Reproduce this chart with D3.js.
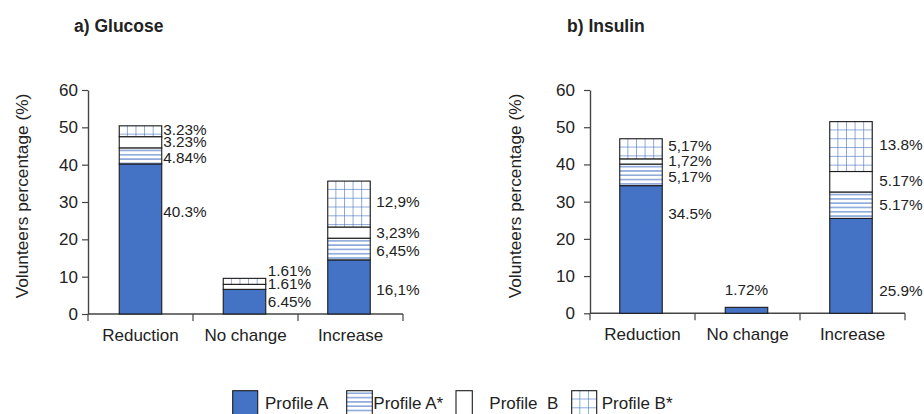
<!DOCTYPE html>
<html>
<head>
<meta charset="utf-8">
<script src="https://cdn.jsdelivr.net/npm/d3@7"></script>
<style>
  html, body { margin: 0; padding: 0; background: #fff; }
  svg { display: block; font-family: "Liberation Sans", Arial, sans-serif; }
  text { fill: #222; white-space: pre; }
</style>
</head>
<body>
<svg id="chart" width="924" height="414"></svg>
<script>
// ---------- DATA ----------
const categories = ["Reduction", "No change", "Increase"];
const profiles = ["Profile A", "Profile A*", "Profile B", "Profile B*"];
const legendLabels = ["Profile A", "Profile A*", "Profile  B", "Profile B*"];
const yTicks = [0, 10, 20, 30, 40, 50, 60];

// a) Glucose — bar heights, per category
const glucoseA     = [40.2, 6.6, 14.5];
const glucoseAStar = [4.3, 0, 5.8];
const glucoseB     = [3.0, 1.35, 3.0];
const glucoseBStar = [2.9, 1.6, 12.3];
const glucoseLabels = [
  ["40.3%", "4.84%", "3.23%", "3.23%"],
  ["6.45%", "", "1.61%", "1.61%"],
  ["16,1%", "6,45%", "3,23%", "12,9%"]
];
const glucoseLabelAt = [
  [27.4, 41.8, 46.2, 49.5],
  [3.3, null, 8.0, 11.6],
  [6.4, 16.9, 21.8, 30.1]
];

// b) Insulin
const insulinA     = [34.3, 1.6, 25.5];
const insulinAStar = [5.8, 0, 7.1];
const insulinB     = [1.4, 0, 5.5];
const insulinBStar = [5.4, 0, 13.4];
const insulinLabels = [
  ["34.5%", "5,17%", "1,72%", "5,17%"],
  ["1.72%", "", "", ""],
  ["25.9%", "5.17%", "5.17%", "13.8%"]
];
const insulinLabelAt = [
  [26.9, 36.7, 41.0, 45.1],
  [6.3, null, null, null],
  [6.0, 29.1, 35.6, 45.2]
];

// ---------- DRAW ----------
const BLUE = "#4472C4";
const svg = d3.select("#chart");
const defs = svg.append("defs");
let patId = 0;

function makePattern(kind, x, y) {
  const id = "p" + (patId++);
  if (kind === 1) {
    const p = defs.append("pattern").attr("id", id)
      .attr("patternUnits", "userSpaceOnUse")
      .attr("x", x).attr("y", y).attr("width", 10).attr("height", 4.3);
    p.append("rect").attr("width", 10).attr("height", 4.3).attr("fill", "#fff");
    p.append("line").attr("x1", 0).attr("x2", 10).attr("y1", 2.6).attr("y2", 2.6)
      .attr("stroke", BLUE).attr("stroke-width", 1);
  } else if (kind === 3) {
    const p = defs.append("pattern").attr("id", id)
      .attr("patternUnits", "userSpaceOnUse")
      .attr("x", x).attr("y", y).attr("width", 8.6).attr("height", 8.8);
    p.append("rect").attr("width", 8.6).attr("height", 8.8).attr("fill", "#fff");
    p.append("line").attr("x1", 8.6).attr("x2", 8.6).attr("y1", 0).attr("y2", 8.8)
      .attr("stroke", BLUE).attr("stroke-width", 1.2);
    p.append("line").attr("x1", 0).attr("x2", 8.6).attr("y1", 8.8).attr("y2", 8.8)
      .attr("stroke", BLUE).attr("stroke-width", 1.2);
  }
  return "url(#" + id + ")";
}
function fillFor(k, x, y) {
  if (k === 0) return BLUE;
  if (k === 2) return "#fff";
  return makePattern(k, x, y);
}

function panel(cfg) {
  const g = svg.append("g");
  const x = d3.scaleBand().domain(categories).range([cfg.x0, cfg.x1]).padding(0);
  const y = d3.scaleLinear().domain([0, 60]).range([cfg.y0, cfg.y1]);

  // title
  g.append("text").attr("x", cfg.titleX).attr("y", 32)
    .attr("font-size", 17.5).attr("font-weight", "bold").text(cfg.title);

  // y axis label
  g.append("text")
    .attr("transform", `translate(${cfg.ylabX},${196}) rotate(-90)`)
    .attr("text-anchor", "middle").attr("dy", "0.35em")
    .attr("font-size", 17.3).text("Volunteers percentage (%)");

  // y axis
  const yAxis = d3.axisLeft(y).tickValues(yTicks).tickSize(6).tickPadding(cfg.tickPad).tickSizeOuter(0);
  const ya = g.append("g").attr("transform", `translate(${cfg.x0},0)`).call(yAxis);
  ya.select(".domain").attr("stroke", "#444").attr("stroke-width", 1.4);
  ya.selectAll(".tick line").attr("stroke", "#444").attr("stroke-width", 1.2);
  ya.selectAll(".tick text").attr("font-size", 17).attr("fill", "#222")
    .attr("font-family", "Liberation Sans, Arial, sans-serif");

  // x axis: line + boundary ticks
  const xa = g.append("g");
  xa.append("line").attr("x1", cfg.x0).attr("x2", cfg.x1)
    .attr("y1", y(0)).attr("y2", y(0)).attr("stroke", "#444").attr("stroke-width", 1.4);
  const bounds = categories.map(c => x(c)).concat([x(categories[2]) + x.bandwidth()]);
  xa.selectAll("line.tk").data(bounds).join("line").attr("class", "tk")
    .attr("x1", d => d).attr("x2", d => d).attr("y1", y(0)).attr("y2", y(0) + 7)
    .attr("stroke", "#444").attr("stroke-width", 1.2);
  xa.selectAll("text.cat").data(categories).join("text").attr("class", "cat")
    .attr("x", d => x(d) + x.bandwidth() / 2).attr("y", y(0) + 27)
    .attr("text-anchor", "middle").attr("font-size", 17).text(d => d);

  // bars
  const bw = 42.5;
  categories.forEach((c, i) => {
    const cx = x(c) + x.bandwidth() / 2 + cfg.barShift[i];
    const bx = cx - bw / 2;
    let base = 0;
    cfg.series.forEach((arr, k) => {
      const v = arr[i];
      if (!v) return;
      const top = base + v;
      const yTop = y(top), yBot = y(base);
      g.append("rect").attr("x", bx).attr("y", yTop)
        .attr("width", bw).attr("height", yBot - yTop)
        .attr("fill", fillFor(k, bx, yTop))
        .attr("stroke", "#1a1a1a").attr("stroke-width", 1.1);
      base = top;
    });
    // labels
    cfg.labels[i].forEach((t, k) => {
      if (!t) return;
      const at = cfg.labelAt[i][k];
      if (cfg.above[i]) {
        g.append("text").attr("x", cx).attr("y", y(at)).attr("dy", "0.35em")
          .attr("text-anchor", "middle").attr("font-size", 15.3).text(t);
      } else {
        g.append("text").attr("x", bx + bw + cfg.labelGap[i]).attr("y", y(at)).attr("dy", "0.35em")
          .attr("font-size", 15.3).text(t);
      }
    });
  });
}

panel({
  title: "a) Glucose", titleX: 74, ylabX: 22,
  x0: 88, x1: 403, y0: 314, y1: 90, tickPad: 4,
  barShift: [0, -1, -1.5],
  series: [glucoseA, glucoseAStar, glucoseB, glucoseBStar],
  labels: glucoseLabels, labelAt: glucoseLabelAt,
  labelGap: [1.5, 2, 6], above: [false, false, false]
});
panel({
  title: "b) Insulin", titleX: 567, ylabX: 515,
  x0: 590, x1: 905, y0: 313.3, y1: 90, tickPad: 9,
  barShift: [-1.5, -1, -1.5],
  series: [insulinA, insulinAStar, insulinB, insulinBStar],
  labels: insulinLabels, labelAt: insulinLabelAt,
  labelGap: [6, 0, 7], above: [false, true, false]
});

// legend
const legend = svg.append("g");
const swX = [232.7, 346.7, 456, 571.7];
const swW = [25, 25.6, 16.3, 25];
const txX = [265, 373.3, 489.3, 601.7];
profiles.forEach((p, k) => {
  legend.append("rect").attr("x", swX[k]).attr("y", 390.7)
    .attr("width", swW[k]).attr("height", 24)
    .attr("fill", fillFor(k, swX[k], 390.7))
    .attr("stroke", "#1a1a1a").attr("stroke-width", 1.1);
  legend.append("text").attr("x", txX[k]).attr("y", 403.3).attr("dy", "0.35em")
    .attr("font-size", 17).text(legendLabels[k]);
});
</script>
</body>
</html>
